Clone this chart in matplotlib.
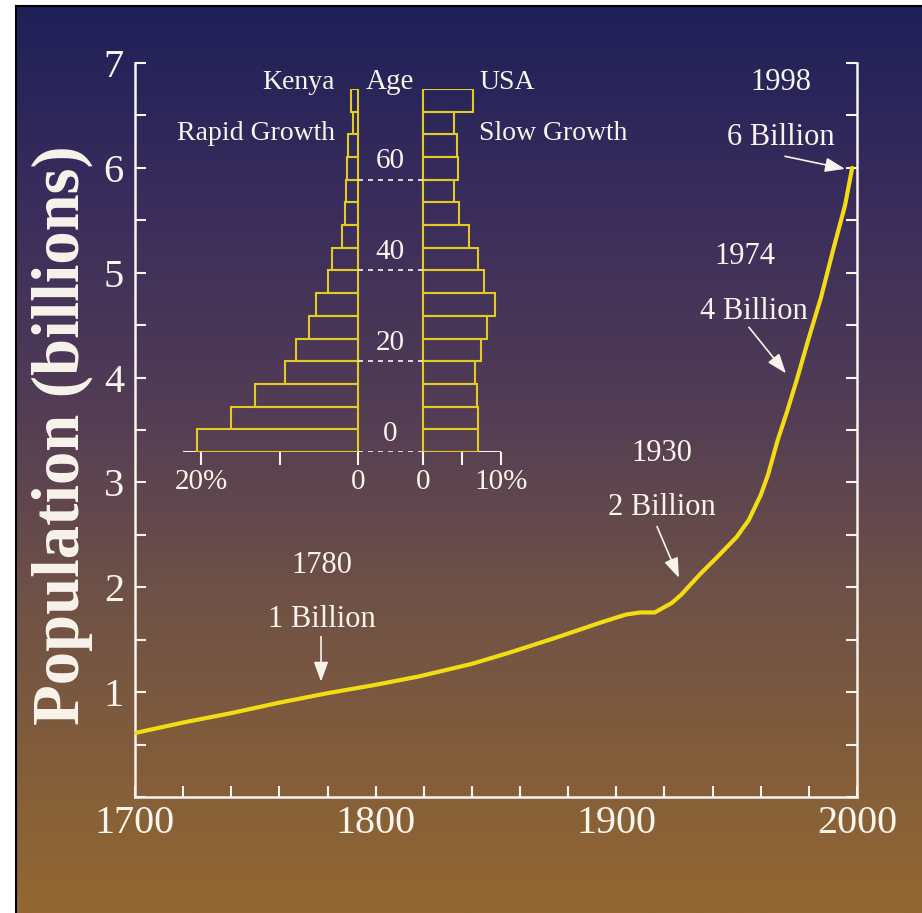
import numpy as np
import matplotlib
matplotlib.use("Agg")
import matplotlib.pyplot as plt
from matplotlib.ticker import MultipleLocator

# world population, billions
years = [1700, 1720, 1740, 1760, 1780, 1800, 1818, 1840, 1856, 1875, 1893,
         1904, 1910, 1916, 1923, 1927, 1935, 1942, 1950, 1955, 1960, 1963,
         1967, 1971, 1975, 1980, 1985, 1990, 1995, 1998]
population = [0.61, 0.71, 0.80, 0.90, 0.99, 1.07, 1.15, 1.27, 1.38, 1.52, 1.66,
              1.74, 1.76, 1.76, 1.85, 1.93, 2.13, 2.29, 2.48, 2.64, 2.88, 3.07,
              3.40, 3.68, 3.98, 4.38, 4.76, 5.21, 5.64, 6.00]

# age structure (% of population in each 5-year group, 0-4 ... 75+)
age_groups = np.arange(0, 80, 5)
kenya_pct = [20.5, 16.2, 13.1, 9.3, 7.9, 6.2, 5.4, 3.8, 3.3, 2.0, 1.6, 1.5,
             1.4, 1.3, 0.6, 0.9]
usa_pct = [7.0, 7.0, 6.9, 6.7, 7.4, 8.2, 9.2, 7.8, 7.0, 5.9, 4.6, 4.0,
           4.5, 4.4, 4.0, 6.4]

# milestone annotations: (text position, arrow tail, arrow tip)
milestones = [
    ("1780", "1 Billion", (1777.5, 2.21), (1777.5, 1.69), (1777.3, 1.53), (1777.3, 1.10)),
    ("1930", "2 Billion", (1919.0, 3.28), (1919.0, 2.76), (1916.9, 2.58), (1926.0, 2.09)),
    ("1974", "4 Billion", (1953.5, 5.15), (1957.2, 4.63), (1955.1, 4.48), (1970.5, 4.04)),
    ("1998", "6 Billion", (1968.4, 6.81), (1968.4, 6.29), (1970.1, 6.11), (1995.0, 5.99)),
]

W, H = 922, 913
white = "#f8f4ec"
yellow = "#f2dc14"
bar_edge = "#e2cb22"
serif = "Liberation Serif"

fig = plt.figure(figsize=(W / 100, H / 100), dpi=100, facecolor="white")

# background panel with vertical gradient
bg = fig.add_axes([16 / W, 0, (W - 16) / W, (H - 6) / H])
stops = np.array([0.0, 0.22, 0.44, 0.66, 1.0])
cols = np.array([[30, 32, 88], [58, 45, 92], [82, 60, 85],
                 [112, 82, 70], [148, 104, 48]]) / 255
t = np.linspace(0, 1, 400)
grad = np.stack([np.interp(t, stops, cols[:, i]) for i in range(3)], axis=-1)
bg.imshow(grad[:, None, :], aspect="auto", extent=[0, 1, 1, 0])
bg.set_xlim(0, 1)
bg.set_ylim(1, 0)
bg.set_xticks([])
bg.set_yticks([])
for side in ["right", "bottom"]:
    bg.spines[side].set_visible(False)
for side in ["left", "top"]:
    bg.spines[side].set_color("black")
    bg.spines[side].set_linewidth(1.5)

# main population chart
ax = fig.add_axes([135 / W, (H - 797) / H, 722 / W, 734 / H])
ax.patch.set_alpha(0)
ax.plot(years, population, color=yellow, lw=3, solid_capstyle="round", zorder=3)
ax.set_xlim(1700, 2000)
ax.set_ylim(0, 7)
ax.spines["top"].set_visible(False)
for side in ["left", "right", "bottom"]:
    ax.spines[side].set_color(white)
    ax.spines[side].set_linewidth(1.8)
ax.set_xticks([1700, 1800, 1900, 2000])
ax.xaxis.set_minor_locator(MultipleLocator(20))
ax.set_yticks(range(1, 8))
ax.yaxis.set_minor_locator(MultipleLocator(0.5))
ax.tick_params(which="both", direction="in", color=white, width=1.5, length=8,
               right=True, labelcolor=white)
ax.tick_params(axis="x", pad=6, labelsize=29)
ax.tick_params(axis="y", pad=8, labelsize=29)
for lab in ax.get_xticklabels() + ax.get_yticklabels():
    lab.set_family(serif)

for year_txt, pop_txt, p1, p2, tail, tip in milestones:
    ax.text(*p1, year_txt, ha="center", va="center", color=white,
            family=serif, fontsize=22)
    ax.text(*p2, pop_txt, ha="center", va="center", color=white,
            family=serif, fontsize=22)
    ax.annotate("", xy=tip, xytext=tail,
                arrowprops=dict(arrowstyle="-|>,head_length=0.6,head_width=0.22",
                                color=white, lw=1.2, mutation_scale=20,
                                shrinkA=0, shrinkB=0))

fig.text(62 / W, 1 - 435 / H, "Population (billions)", rotation=90,
         ha="center", va="center", color=white, family=serif,
         fontweight="bold", fontsize=48)

# age pyramid inset
gap = 4.155
ins = fig.add_axes([183 / W, (H - 452) / H, 318 / W, 363 / H])
ins.patch.set_alpha(0)
ins.set_xlim(-26.5, 14.13)
ins.set_ylim(0, 80)
for s in ins.spines.values():
    s.set_visible(False)

ins.plot([-26.5, -gap], [0, 0], color=white, lw=2.2, zorder=1)
ins.plot([gap, 14.13], [0, 0], color=white, lw=2.2, zorder=1)
ins.barh(age_groups, [-v for v in kenya_pct], left=-gap, height=5,
         align="edge", facecolor="none", edgecolor=bar_edge, lw=1.5, zorder=2)
ins.barh(age_groups, usa_pct, left=gap, height=5,
         align="edge", facecolor="none", edgecolor=bar_edge, lw=1.5, zorder=2)

for age in [0, 20, 40, 60]:
    ins.plot([-gap, gap], [age, age], color=white, lw=1.2, ls=(0, (3, 3)))
    ins.text(0, age + 1.2, str(age), ha="center", va="bottom", color=white,
             family=serif, fontsize=21)

ins.set_yticks([])
ins.set_xticks([-20 - gap, -10 - gap, -gap, gap, 5 + gap, 10 + gap])
ins.set_xticklabels(["20%", "", "0", "0", "", "10%"])
ins.tick_params(axis="x", direction="out", color=white, width=1.5, length=9,
                pad=3, labelcolor=white, labelsize=21)
for lab in ins.get_xticklabels():
    lab.set_family(serif)

ins.text(0, 81.5, "Age", ha="center", va="center", color=white,
         family=serif, fontsize=21, clip_on=False)
ins.text(-7.1, 81.5, "Kenya", ha="right", va="center", color=white,
         family=serif, fontsize=20, clip_on=False)
ins.text(-7.1, 70.3, "Rapid Growth", ha="right", va="center", color=white,
         family=serif, fontsize=20, clip_on=False)
ins.text(11.4, 81.5, "USA", ha="left", va="center", color=white,
         family=serif, fontsize=20, clip_on=False)
ins.text(11.4, 70.3, "Slow Growth", ha="left", va="center", color=white,
         family=serif, fontsize=20, clip_on=False)

fig.savefig("out.png", dpi=100, facecolor="white")
